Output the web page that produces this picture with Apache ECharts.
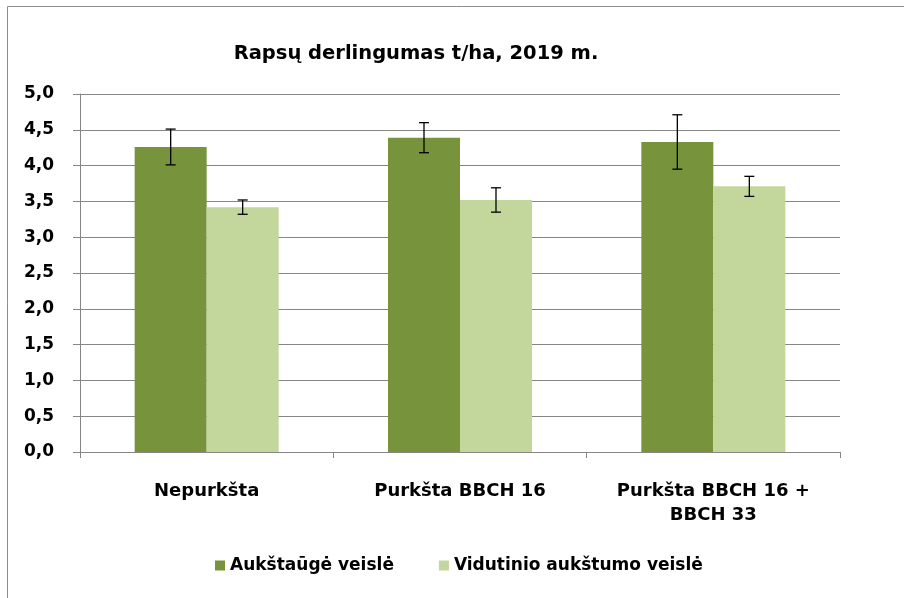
<!DOCTYPE html>
<html>
<head>
<meta charset="utf-8">
<script src="https://cdn.jsdelivr.net/npm/echarts@6/dist/echarts.min.js"></script>
<style>
  html, body { margin: 0; padding: 0; background: #fff; }
  #chart { width: 904px; height: 598px; }
</style>
</head>
<body>
<div id="chart"></div>
<script>
// duomenys
const categories = ['Nepurkšta', 'Purkšta BBCH 16', 'Purkšta BBCH 16 +\nBBCH 33']
const seriesNames = ['Aukštaūgė veislė', 'Vidutinio aukštumo veislė']
const tallValues = [4.26, 4.39, 4.33]
const tallErrors = [0.25, 0.21, 0.38]
const midValues = [3.42, 3.52, 3.71]
const midErrors = [0.10, 0.17, 0.14]

const FONT = 'DejaVu Sans'
const BAR_W = 72

function errorSeries(values, errors, offset) {
  return {
    type: 'custom',
    silent: true,
    z: 10,
    data: values.map((v, i) => [i, v - errors[i], v + errors[i]]),
    renderItem(params, api) {
      const lo = api.coord([api.value(0), api.value(1)])
      const hi = api.coord([api.value(0), api.value(2)])
      const x = lo[0] + offset
      const cap = 5
      const style = { stroke: '#000', lineWidth: 1.3 }
      return {
        type: 'group',
        children: [
          { type: 'line', shape: { x1: x, y1: hi[1], x2: x, y2: lo[1] }, style },
          { type: 'line', shape: { x1: x - cap, y1: hi[1], x2: x + cap, y2: hi[1] }, style },
          { type: 'line', shape: { x1: x - cap, y1: lo[1], x2: x + cap, y2: lo[1] }, style }
        ]
      }
    }
  }
}

const chart = echarts.init(document.getElementById('chart'))
chart.setOption({
  animation: false,
  backgroundColor: '#fff',
  color: ['#77933C', '#C3D69B'],
  textStyle: { fontFamily: FONT },
  graphic: [{
    type: 'rect',
    shape: { x: 7.5, y: 6.5, width: 1000, height: 1000 },
    style: { fill: 'none', stroke: '#8c8c8c', lineWidth: 1 },
    silent: true
  }],
  title: {
    text: 'Rapsų derlingumas t/ha, 2019 m.',
    left: 411,
    top: 39,
    textAlign: 'center',
    textStyle: { fontFamily: FONT, fontSize: 19.5, fontWeight: 'bold', color: '#000' }
  },
  legend: {
    data: seriesNames,
    left: 210,
    top: 552,
    itemWidth: 10,
    itemHeight: 10,
    itemGap: 45,
    icon: 'rect',
    textStyle: { fontFamily: FONT, fontSize: 17, fontWeight: 'bold', color: '#000' }
  },
  grid: { left: 80, right: 64, top: 94, bottom: 146, containLabel: false },
  xAxis: {
    type: 'category',
    data: categories,
    axisLine: { lineStyle: { color: '#868686' } },
    axisTick: { show: true, length: 6, lineStyle: { color: '#868686' } },
    axisLabel: {
      margin: 27,
      lineHeight: 24,
      fontFamily: FONT, fontSize: 18, fontWeight: 'bold', color: '#000'
    }
  },
  yAxis: {
    type: 'value',
    min: 0, max: 5, interval: 0.5,
    axisLine: { show: true, lineStyle: { color: '#868686' } },
    axisTick: { show: true, length: 7, lineStyle: { color: '#868686' } },
    splitLine: { lineStyle: { color: '#868686' } },
    axisLabel: {
      margin: 26,
      fontFamily: FONT, fontSize: 17, fontWeight: 'bold', color: '#000',
      formatter: v => v.toFixed(1).replace('.', ',')
    }
  },
  series: [
    { name: seriesNames[0], type: 'bar', data: tallValues, barWidth: BAR_W, barGap: '0%' },
    { name: seriesNames[1], type: 'bar', data: midValues, barWidth: BAR_W, barGap: '0%' },
    errorSeries(tallValues, tallErrors, -BAR_W / 2),
    errorSeries(midValues, midErrors, BAR_W / 2)
  ]
})
</script>
</body>
</html>
